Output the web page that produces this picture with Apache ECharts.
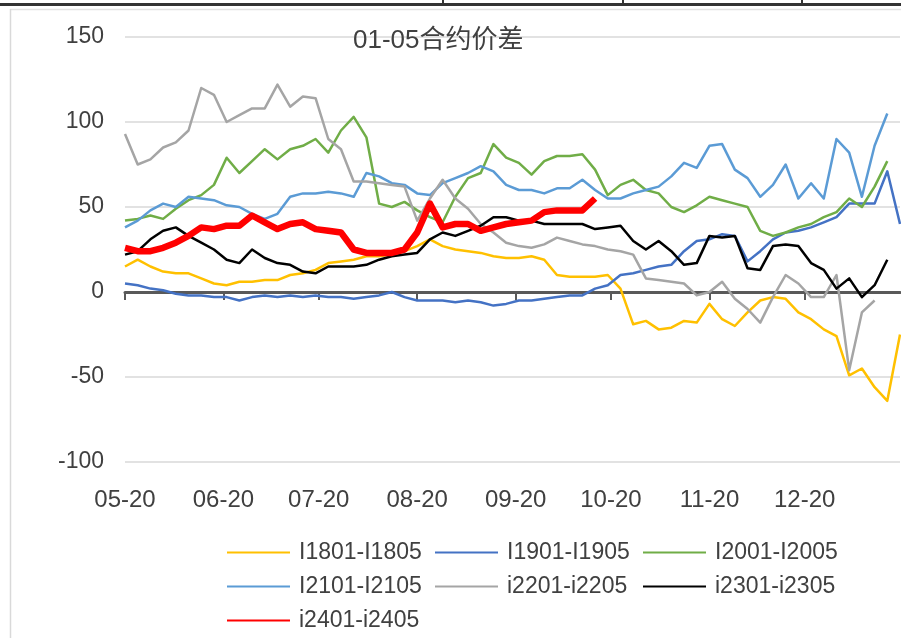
<!DOCTYPE html>
<html>
<head>
<meta charset="utf-8">
<script src="https://cdn.jsdelivr.net/npm/echarts@6/dist/echarts.min.js"></script>
<style>
html,body{margin:0;padding:0;background:#fff;}
#chart{width:901px;height:638px;}
</style>
</head>
<body>
<div id="chart"></div>
<script>
// sample dates (every 4 calendar days)
var dates = ['2023-05-20','2023-05-24','2023-05-28','2023-06-01','2023-06-05','2023-06-09','2023-06-13','2023-06-17','2023-06-21','2023-06-25','2023-06-29','2023-07-03','2023-07-07','2023-07-11','2023-07-15','2023-07-19','2023-07-23','2023-07-27','2023-07-31','2023-08-04','2023-08-08','2023-08-12','2023-08-16','2023-08-20','2023-08-24','2023-08-28','2023-09-01','2023-09-05','2023-09-09','2023-09-13','2023-09-17','2023-09-21','2023-09-25','2023-09-29','2023-10-03','2023-10-07','2023-10-11','2023-10-15','2023-10-19','2023-10-23','2023-10-27','2023-10-31','2023-11-04','2023-11-08','2023-11-12','2023-11-16','2023-11-20','2023-11-24','2023-11-28','2023-12-02','2023-12-06','2023-12-10','2023-12-14','2023-12-18','2023-12-22','2023-12-26','2023-12-30','2024-01-03','2024-01-07','2024-01-11','2024-01-15','2024-01-19'];

// x-axis tick labels
var tickDates = ['2023-05-20','2023-06-20','2023-07-20','2023-08-20','2023-09-20','2023-10-20','2023-11-20','2023-12-20'];
var yTicks = [-100, -50, 0, 50, 100, 150];

var seriesNames = ['I1801-I1805','I1901-I1905','I2001-I2005','I2101-I2105','i2201-i2205','i2301-i2305','i2401-i2405'];

var s1801 = [15,19,15,12,11,11,8,5,4,6,6,7,7,10,11,13,17,18,19,21,21,22,24,27,31,27,25,24,23,21,20,20,21,19,10,9,9,9,10,2,-19,-17,-22,-21,-17,-18,-7,-16,-20,-12,-5,-3,-4,-12,-16,-22,-26,-49,-45,-56,-64,-25];
var s1901 = [5,4,2,1,-1,-2,-2,-3,-3,-5,-3,-2,-3,-2,-3,-2,-3,-3,-4,-3,-2,0,-3,-5,-5,-5,-6,-5,-6,-8,-7,-5,-5,-4,-3,-2,-2,2,4,10,11,13,15,16,24,30,31,34,33,18,24,31,35,36,38,41,44,52,52,52,71,40];
var s2001 = [42,43,45,43,49,54,57,63,79,70,77,84,78,84,86,90,82,95,103,91,52,50,53,48,44,41,56,67,70,87,79,76,69,77,80,80,81,72,57,63,66,60,58,50,47,51,56,54,52,50,36,33,35,38,40,44,47,55,50,62,77];
var s2101 = [38,42,48,52,50,56,55,54,51,50,46,43,46,56,58,58,59,58,56,70,68,64,63,58,57,64,67,70,74,71,63,60,60,58,61,61,66,60,55,55,58,60,62,68,76,73,86,87,72,67,56,63,75,55,64,55,90,82,56,86,105];
var s2201 = [93,75,78,85,88,95,120,116,100,104,108,108,122,109,115,114,90,84,65,65,64,63,62,42,55,66,55,49,40,35,29,27,26,28,32,30,28,27,25,24,22,8,7,6,5,-2,0,6,-4,-10,-18,-3,10,5,-3,-3,10,-46,-12,-5];
var s2301 = [22,24,31,36,38,33,29,25,19,17,25,20,17,16,12,11,15,15,15,16,19,21,22,23,31,35,33,36,39,44,44,42,42,40,40,40,40,37,38,39,30,25,30,24,16,17,33,32,33,14,13,27,28,27,17,13,2,8,-3,4,19];
var s2401 = [26,24,24,26,29,33,38,37,39,39,45,41,37,40,41,37,36,35,25,23,23,23,25,35,52,38,40,40,36,38,40,41,42,47,48,48,48,55];

var seriesValues = [s1801, s1901, s2001, s2101, s2201, s2301, s2401];
var seriesColors = ['#FFC000','#4472C4','#70AD47','#5B9BD5','#A5A5A5','#000000','#FF0000'];
var seriesWidths = [2.5,2.5,2.5,2.5,2.5,2.5,6.5];

var P = function (s) { return echarts.number.parseDate(s).getTime(); };
var FONT = '"Liberation Sans", "Noto Sans CJK SC", sans-serif';
var TXT = '#404040';

var chart = echarts.init(document.getElementById('chart'), null, {renderer: 'canvas'});

var series = seriesValues.map(function (vals, k) {
  return {
    name: seriesNames[k],
    type: 'line',
    symbol: 'none',
    showSymbol: false,
    data: vals.map(function (v, i) { return [P(dates[i]), v]; }),
    lineStyle: {color: seriesColors[k], width: seriesWidths[k], join: 'round'},
    itemStyle: {color: seriesColors[k]},
    z: 2 + k,
    animation: false
  };
});

var tickVals = tickDates.map(P);

chart.setOption({
  animation: false,
  backgroundColor: '#ffffff',
  title: {
    text: '01-05合约价差',
    left: 353,
    top: 28,
    padding: 0,
    textStyle: {fontFamily: FONT, fontSize: 26, fontWeight: 'normal', color: TXT}
  },
  grid: {left: 125, right: 1, top: 37, bottom: 176, containLabel: false, outerBoundsMode: 'none'},
  xAxis: {
    type: 'value',
    min: P('2023-05-20'),
    max: P('2024-01-19'),
    axisLine: {onZero: true, lineStyle: {color: '#595959', width: 3}},
    axisTick: {show: true, length: 8, inside: false, customValues: tickVals, lineStyle: {color: '#595959', width: 2}},
    axisLabel: {
      customValues: tickVals,
      margin: 26,
      fontFamily: FONT, fontSize: 24, color: TXT,
      formatter: function (v) { return echarts.time.format(v, '{MM}-{dd}', false); }
    },
    splitLine: {show: false}
  },
  yAxis: {
    type: 'value',
    min: yTicks[0],
    max: yTicks[yTicks.length - 1],
    interval: 50,
    axisLine: {show: false},
    axisTick: {show: false},
    axisLabel: {margin: 21, fontFamily: FONT, fontSize: 23, color: TXT},
    splitLine: {lineStyle: {color: '#d9d9d9', width: 1.5}}
  },
  legend: {
    data: seriesNames,
    left: 226,
    top: 538,
    width: 640,
    padding: 0,
    itemWidth: 63,
    itemHeight: 14,
    itemGap: 5,
    itemStyle: {color: 'transparent', borderWidth: 0, opacity: 0},
    textStyle: {fontFamily: FONT, fontSize: 23, color: TXT, width: 130, lineHeight: 29, padding: [0, 0, 0, 4]}
  },
  graphic: [
    {type: 'line', shape: {x1: 0, y1: 4.5, x2: 901, y2: 4.5}, style: {stroke: '#333333', lineWidth: 3}, silent: true},
    {type: 'line', shape: {x1: 443, y1: 0, x2: 443, y2: 4}, style: {stroke: '#333333', lineWidth: 2}, silent: true},
    {type: 'line', shape: {x1: 623, y1: 0, x2: 623, y2: 4}, style: {stroke: '#333333', lineWidth: 2}, silent: true},
    {type: 'line', shape: {x1: 802, y1: 0, x2: 802, y2: 4}, style: {stroke: '#333333', lineWidth: 2}, silent: true},
    {type: 'line', shape: {x1: 10, y1: 9.5, x2: 901, y2: 9.5}, style: {stroke: '#e2e2e2', lineWidth: 1.5}, silent: true},
    {type: 'line', shape: {x1: 10.5, y1: 9, x2: 10.5, y2: 638}, style: {stroke: '#d9d9d9', lineWidth: 1.5}, silent: true}
  ],
  series: series
});
</script>
</body>
</html>
